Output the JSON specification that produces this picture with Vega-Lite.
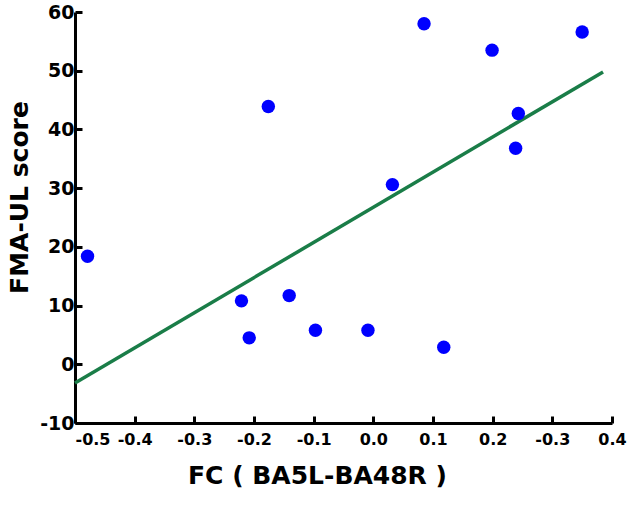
{
  "$schema": "https://vega.github.io/schema/vega-lite/v6.json",
  "width": 537,
  "height": 411,
  "autosize": {"type": "none"},
  "padding": {"left": 75, "top": 12, "right": 18, "bottom": 94},
  "background": "white",
  "config": {
    "view": {"stroke": null},
    "axis": {
      "grid": false,
      "domainColor": "black",
      "domainWidth": 3,
      "tickColor": "black",
      "tickWidth": 3,
      "tickSize": -7,
      "labelFont": "DejaVu Sans",
      "labelFontWeight": "bold",
      "labelColor": "black",
      "labelOverlap": false,
      "titleFont": "DejaVu Sans",
      "titleFontWeight": "bold",
      "titleColor": "black",
      "titleFontSize": 25
    }
  },
  "datasets": {
    "points": [
      {"fc": -0.479, "fma": 18.4},
      {"fc": -0.221, "fma": 10.8},
      {"fc": -0.208, "fma": 4.5},
      {"fc": -0.176, "fma": 43.9},
      {"fc": -0.141, "fma": 11.7},
      {"fc": -0.097, "fma": 5.8},
      {"fc": -0.009, "fma": 5.8},
      {"fc": 0.032, "fma": 30.6},
      {"fc": 0.085, "fma": 58.0},
      {"fc": 0.118, "fma": 2.9},
      {"fc": 0.199, "fma": 53.5},
      {"fc": 0.2385, "fma": 36.8},
      {"fc": 0.243, "fma": 42.7},
      {"fc": 0.35, "fma": 56.6}
    ],
    "fit": [
      {"fc": -0.5, "fma": -3.2},
      {"fc": 0.385, "fma": 49.8}
    ]
  },
  "layer": [
    {
      "data": {"name": "fit"},
      "mark": {"type": "line", "color": "#1a7d48", "strokeWidth": 3.5},
      "encoding": {
        "x": {"field": "fc", "type": "quantitative", "scale": {"domain": [-0.5, 0.4], "nice": false, "zero": false}},
        "y": {"field": "fma", "type": "quantitative", "scale": {"domain": [-10, 60], "nice": false, "zero": false}}
      }
    },
    {
      "data": {"name": "points"},
      "mark": {"type": "circle", "color": "#0000ff", "opacity": 1, "size": 180},
      "encoding": {
        "x": {
          "field": "fc",
          "type": "quantitative",
          "scale": {"domain": [-0.5, 0.4], "nice": false, "zero": false},
          "axis": {
            "values": [-0.5, -0.4, -0.3, -0.2, -0.1, 0, 0.1, 0.2, 0.3, 0.4],
            "labelExpr": "datum.value == 0 ? '0.0' : (datum.value > 0.25 && datum.value < 0.35 ? '-0.3' : '' + datum.value)",
            "labelFontSize": 16,
            "labelPadding": 15,
            "labelAlign": {"condition": {"test": "datum.value < -0.45", "value": "left"}, "value": "center"},
            "labelFlush": false,
            "title": "FC ( BA5L-BA48R )",
            "titleX": 242,
            "titleY": 60,
            "titleBaseline": "alphabetic",
            "titleAlign": "center"
          }
        },
        "y": {
          "field": "fma",
          "type": "quantitative",
          "scale": {"domain": [-10, 60], "nice": false, "zero": false},
          "axis": {
            "values": [-10, 0, 10, 20, 30, 40, 50, 60],
            "labelExpr": "'' + datum.value",
            "labelFontSize": 19,
            "labelPadding": 8,
            "labelFlush": false,
            "title": "FMA-UL score",
            "titleAngle": -90,
            "titleX": -48,
            "titleY": 185,
            "titleBaseline": "alphabetic",
            "titleAlign": "center"
          }
        }
      }
    }
  ]
}
